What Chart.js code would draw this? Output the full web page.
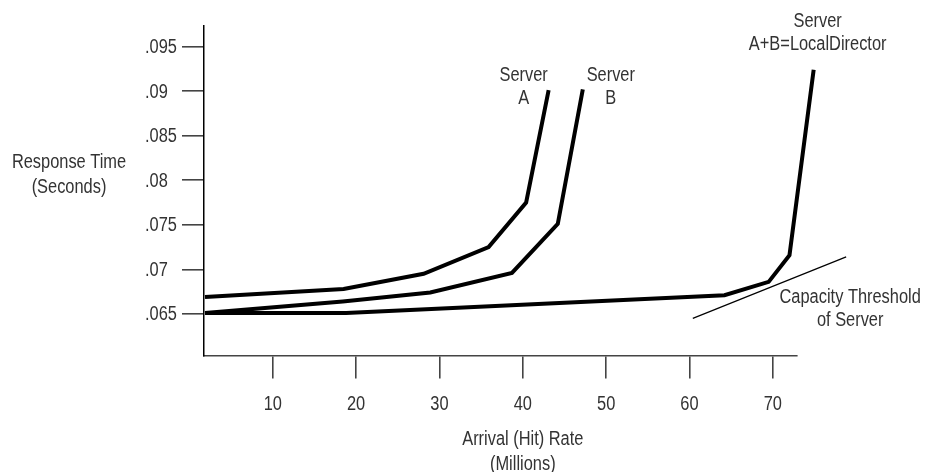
<!DOCTYPE html>
<html>
<head>
<meta charset="utf-8">
<script src="https://cdn.jsdelivr.net/npm/chart.js@4/dist/chart.umd.min.js"></script>
<style>
  html, body { margin: 0; padding: 0; background: #fff; }
  #wrap { width: 926px; height: 472px; position: relative; }
</style>
</head>
<body>
<div id="wrap"><canvas id="chart" width="926" height="472"></canvas></div>
<script>
// tick values and labels
const xTicks = [10, 20, 30, 40, 50, 60, 70];
const yTicks = [0.065, 0.07, 0.075, 0.08, 0.085, 0.09, 0.095];
const yTickLabels = ['.065', '.07', '.075', '.08', '.085', '.09', '.095'];

// curves
const serverAX = [1.87, 18.5, 28.1, 35.9, 40.4, 43.1];
const serverAY = [0.0669, 0.0678, 0.0695, 0.0725, 0.0775, 0.0901];
const serverBX = [1.87, 18.4, 28.9, 38.7, 44.2, 47.2];
const serverBY = [0.0651, 0.0664, 0.0674, 0.0696, 0.0751, 0.0902];
const localDirX = [1.87, 18.8, 64.2, 69.5, 72.0, 74.9];
const localDirY = [0.0651, 0.0651, 0.0671, 0.0686, 0.0716, 0.0924];
const thresholdX = [60.4, 78.8];
const thresholdY = [0.0645, 0.0714];

// Liberation Sans squeezed ~ Arial Narrow look of the original
const FONT = "20px 'Liberation Sans', Arial, sans-serif";
const SQUEEZE = 0.82;
const TEXT = '#333';

function pts(xs, ys) {
  return xs.map((x, i) => ({ x, y: ys[i] }));
}

function narrowText(ctx, t, x, y, align) {
  ctx.save();
  ctx.translate(x, y);
  ctx.scale(SQUEEZE, 1);
  ctx.textAlign = align || 'center';
  ctx.fillText(t, 0, 0);
  ctx.restore();
}

// all the text: tick labels, axis titles, curve names
const labelPlugin = {
  id: 'labels',
  afterDraw(chart) {
    const ctx = chart.ctx;
    const xs = chart.scales.x, ys = chart.scales.y;
    ctx.save();
    ctx.fillStyle = TEXT;
    ctx.font = FONT;
    ctx.textBaseline = 'middle';

    xs.ticks.forEach(t => narrowText(ctx, String(t.value), xs.getPixelForValue(t.value), 404, 'center'));
    ys.ticks.forEach(t => {
      const i = yTicks.findIndex(v => Math.abs(v - t.value) < 1e-9);
      narrowText(ctx, yTickLabels[i], ys.left, ys.getPixelForValue(t.value) + 1, 'left');
    });

    function block(lines, cx, cy, gap) {
      lines.forEach((t, i) => narrowText(ctx, t, cx, cy + i * gap, 'center'));
    }
    // anchor at the last point of each curve
    const last = (a) => a[a.length - 1];
    let ax = xs.getPixelForValue(last(serverAX)), ay = ys.getPixelForValue(last(serverAY));
    block(['Server', 'A'], ax - 25, ay - 15, 23);
    let bx = xs.getPixelForValue(last(serverBX)), by = ys.getPixelForValue(last(serverBY));
    block(['Server', 'B'], bx + 28, by - 14, 23);
    let lx = xs.getPixelForValue(last(localDirX)), ly = ys.getPixelForValue(last(localDirY));
    block(['Server', 'A+B=LocalDirector'], lx + 4, ly - 48, 23);
    let tx = xs.getPixelForValue(thresholdX[1]), ty = ys.getPixelForValue(thresholdY[1]);
    block(['Capacity Threshold', 'of Server'], tx + 4, ty + 41, 23);

    // axis titles
    block(['Response Time', '(Seconds)'], 69, 162, 25);
    block(['Arrival (Hit) Rate', '(Millions)'], xs.getPixelForValue(40), 439, 25);
    ctx.restore();
  }
};

const lineStyle = {
  borderColor: '#000',
  borderWidth: 4,
  pointRadius: 0,
  showLine: true,
  fill: false,
  tension: 0,
  clip: false,
  borderJoinStyle: 'miter'
};

const tickGrid = (len) => ({
  drawOnChartArea: false,
  drawTicks: true,
  tickLength: len,
  color: '#444',
  tickColor: '#444',
  lineWidth: 1.6,
  tickWidth: 1.6
});

new Chart(document.getElementById('chart'), {
  type: 'scatter',
  data: {
    datasets: [
      Object.assign({ label: 'Server A', data: pts(serverAX, serverAY) }, lineStyle),
      Object.assign({ label: 'Server B', data: pts(serverBX, serverBY) }, lineStyle),
      Object.assign({ label: 'Server A+B=LocalDirector', data: pts(localDirX, localDirY) }, lineStyle),
      Object.assign({ label: 'Capacity Threshold', data: pts(thresholdX, thresholdY) }, lineStyle, { borderWidth: 1.2 })
    ]
  },
  options: {
    responsive: false,
    animation: false,
    devicePixelRatio: 1,
    layout: { padding: { left: 145, top: 26, right: 129, bottom: 0 } },
    plugins: {
      legend: { display: false },
      tooltip: { enabled: false }
    },
    scales: {
      x: {
        type: 'linear',
        min: 1.75,
        max: 72.9,
        afterBuildTicks(scale) { scale.ticks = xTicks.map(v => ({ value: v })); },
        afterFit(scale) { scale.height = 472 - 26 - 329.5; },
        border: { display: true, color: '#444', width: 1.5 },
        grid: tickGrid(23),
        // labels are drawn narrow by the plugin
        ticks: { color: 'rgba(0,0,0,0)', autoSkip: false, maxRotation: 0, font: { size: 20 } }
      },
      y: {
        type: 'linear',
        min: 0.06034,
        max: 0.0973,
        afterBuildTicks(scale) { scale.ticks = yTicks.map(v => ({ value: v })); },
        afterFit(scale) { scale.width = 59; },
        border: { display: true, color: '#000', width: 1.5 },
        grid: tickGrid(22),
        ticks: {
          color: 'rgba(0,0,0,0)',
          font: { size: 20 },
          crossAlign: 'far',
          padding: 5,
          autoSkip: false,
          callback: (v) => {
            const i = yTicks.findIndex(t => Math.abs(t - v) < 1e-9);
            return i >= 0 ? yTickLabels[i] : '';
          }
        }
      }
    }
  },
  plugins: [labelPlugin]
});
</script>
</body>
</html>
